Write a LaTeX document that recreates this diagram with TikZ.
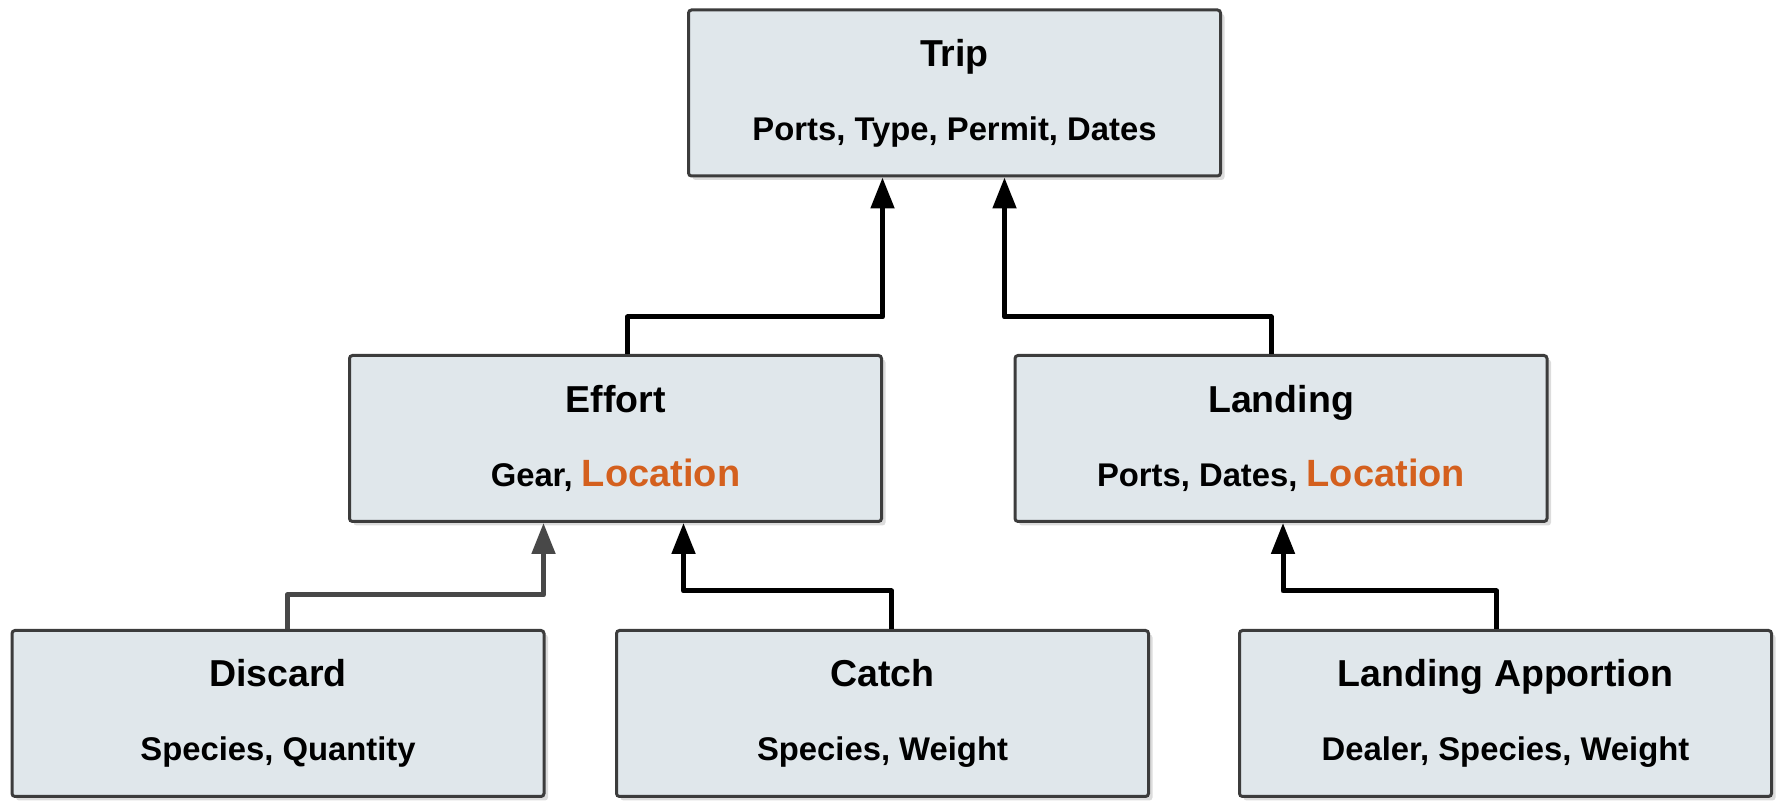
\documentclass[tikz,border=0pt]{standalone}
\usepackage{fontspec}
\setmainfont{Liberation Sans}
\usetikzlibrary{arrows.meta,shadows}
\definecolor{boxfill}{RGB}{224,231,235}
\definecolor{boxline}{RGB}{60,60,60}
\definecolor{locorange}{RGB}{212,96,30}
\definecolor{greyline}{RGB}{72,72,72}
\newcommand{\boxtitle}[1]{{\fontsize{37.5}{74}\selectfont #1}}
\newcommand{\loc}{\textcolor{locorange}{\fontsize{38}{74}\selectfont Location}}
\begin{document}
\begin{tikzpicture}[
        x=1pt,y=1pt,
        every path/.style={line width=3pt},
        entity/.style={draw=boxline,fill=boxfill,rounded corners=3pt,
            minimum width=532pt,minimum height=166pt,align=center,
            font=\bfseries\fontsize{32.8}{74}\selectfont,
            drop shadow={shadow xshift=4pt,shadow yshift=-4pt,fill=black!30,opacity=.45}},
        link/.style={line width=5pt,line join=round,-{Triangle[length=31pt,width=23pt]}}
    ]
        \useasboundingbox (0,0) rectangle (1783,802);

        \node [entity] (trip) at (954.5,709) {\boxtitle{Trip}\\Ports, Type, Permit, Dates};

        \node [entity] (effort) at (615.5,363.5) {\boxtitle{Effort}\\Gear, \loc};
        \node [entity] (landing) at (1281,363.5) {\boxtitle{Landing}\\Ports, Dates, \loc};

        \node [entity] (discard) at (278,88.5) {\boxtitle{Discard}\\Species, Quantity};
        \node [entity] (catch) at (882.5,88.5) {\boxtitle{Catch}\\Species, Weight};
        \node [entity] (apportion) at (1505.5,88.5) {\boxtitle{Landing Apportion}\\Dealer, Species, Weight};

        % upper level
        \draw [link] ([xshift=12pt]effort.north) -- ++(0,37) -| ([xshift=-72pt]trip.south);
        \draw [link] ([xshift=-10pt]landing.north) -- ++(0,37) -| ([xshift=50pt]trip.south);

        % lower level
        \draw [link,greyline] ([xshift=9pt]discard.north) -- ++(0,34) -| ([xshift=-72pt]effort.south);
        \draw [link] ([xshift=9pt]catch.north) -- ++(0,38) -| ([xshift=68pt]effort.south);
        \draw [link] ([xshift=-9pt]apportion.north) -- ++(0,38) -| ([xshift=2pt]landing.south);
\end{tikzpicture}
\end{document}
